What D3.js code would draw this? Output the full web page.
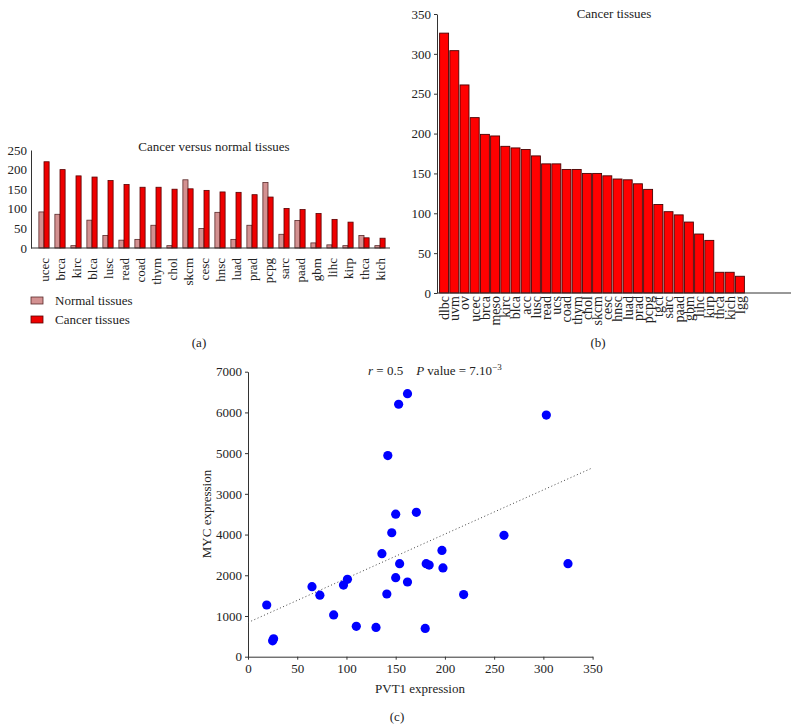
<!DOCTYPE html>
<html><head><meta charset="utf-8">
<script src="https://cdn.jsdelivr.net/npm/d3@7"></script>
<style>body{margin:0;background:#fff}svg{font-family:"Liberation Serif","Times New Roman",serif}</style>
</head><body>
<svg id="c" width="799" height="728"></svg>
<script>
// Panel (a) data
const catsA = ["ucec","brca","kirc","blca","lusc","read","coad","thym","chol","skcm","cesc","hnsc","luad","prad","pcpg","sarc","paad","gbm","lihc","kirp","thca","kich"];
const normalA = [92,86,6,71,32,20,22,58,6,174,50,91,22,58,167,35,70,13,8,6,32,6];
const cancerA = [220,200,184,181,172,162,155,155,150,151,147,143,142,136,130,101,98,88,73,66,26,25];
const ticksA = [0,50,100,150,200,250];
// Panel (b) data
const catsB = ["dlbc","uvm","ov","ucec","brca","meso","kirc","blca","acc","lusc","read","ucs","coad","thym","chol","skcm","cesc","hnsc","luad","prad","pcpg","tgct","sarc","paad","gbm","lihc","kirp","thca","kich","lgg"];
const valsB = [326,304,261,220,199,197,184,182,180,172,162,162,155,155,150,150,147,143,142,137,130,111,102,98,89,74,66,26,26,21];
const ticksB = [0,50,100,150,200,250,300,350];
// Panel (c) data
const pvt1 = [19,25,26,65,73,87,97,101,110,130,136,141,142,146,150,150,153,154,162,162,171,180,181,184,197,198,219,260,303,325];
const myc  = [1270,390,440,1720,1510,1025,1760,1900,745,720,2530,1540,4940,3045,3500,1940,6200,2285,6460,1835,3545,695,2285,2250,2610,2180,1525,2980,5935,2285];
const trendX = [0,350];
const trendY = [840,4640];
const ticksCX = [0,50,100,150,200,250,300,350];
const ticksCY = [0,1000,2000,3000,4000,5000,6000,7000];
const ticksCYLabels = ["0","1000","2000","4000","3000","5000","6000","7000"];

const svg = d3.select("#c");
const FS = 13;

// ---------- Panel (a) ----------
{
  const yA = d3.scaleLinear().domain([0,250]).range([248,150]);
  const xA = d3.scaleBand().domain(catsA).range([36,388]).paddingInner(0.36).paddingOuter(0.18);
  const sub = d3.scaleBand().domain(["n","c"]).range([0,xA.bandwidth()]);
  const g = svg.append("g");
  const data = catsA.map((c,i)=>({c,n:normalA[i],k:cancerA[i]}));
  g.selectAll("rect.n").data(data).join("rect")
    .attr("x",d=>xA(d.c)+sub("n")).attr("width",sub.bandwidth())
    .attr("y",d=>yA(d.n)).attr("height",d=>yA(0)-yA(d.n))
    .attr("fill","#d39191").attr("stroke","#5a2a2a").attr("stroke-width",0.8);
  g.selectAll("rect.k").data(data).join("rect")
    .attr("x",d=>xA(d.c)+sub("c")).attr("width",sub.bandwidth())
    .attr("y",d=>yA(d.k)).attr("height",d=>yA(0)-yA(d.k))
    .attr("fill","#ee0000").attr("stroke","#5a0000").attr("stroke-width",0.8);
  const ya = g.append("g").attr("transform","translate(31,0)")
    .call(d3.axisLeft(yA).tickValues(ticksA).tickSize(0).tickPadding(4));
  ya.select(".domain").attr("stroke","#333");
  ya.selectAll("text").attr("font-size",FS).attr("font-family","Liberation Serif").attr("fill","#222");
  const xa = g.append("g").attr("transform","translate(0,248)")
    .call(d3.axisBottom(xA).tickSize(0).tickSizeOuter(0));
  xa.select(".domain").attr("d","M31,0H390").attr("stroke","#333");
  xa.selectAll("text").attr("font-size",FS).attr("font-family","Liberation Serif").attr("fill","#222")
    .attr("transform","rotate(-90)").attr("text-anchor","end").attr("x",-10).attr("y",0).attr("dy","0.35em");
  g.append("text").attr("x",214).attr("y",151).attr("text-anchor","middle").attr("font-size",FS).attr("fill","#222").text("Cancer versus normal tissues");
  const leg = [{t:"Normal tissues",f:"#d39191",s:"#5a2a2a"},{t:"Cancer tissues",f:"#ee0000",s:"#5a0000"}];
  leg.forEach((l,i)=>{
    g.append("rect").attr("x",31).attr("y",297+i*19).attr("width",12).attr("height",7).attr("fill",l.f).attr("stroke",l.s).attr("stroke-width",0.8);
    g.append("text").attr("x",55).attr("y",305+i*19).attr("font-size",FS).attr("fill","#222").text(l.t);
  });
  g.append("text").attr("x",199).attr("y",347).attr("text-anchor","middle").attr("font-size",FS).attr("fill","#222").text("(a)");
}

// ---------- Panel (b) ----------
{
  const yB = d3.scaleLinear().domain([0,350]).range([293,14]);
  const xB = d3.scaleBand().domain(catsB).range([439,745]).paddingInner(0.12).paddingOuter(0.06);
  const g = svg.append("g");
  g.selectAll("rect").data(catsB.map((c,i)=>({c,v:valsB[i]}))).join("rect")
    .attr("x",d=>xB(d.c)).attr("width",xB.bandwidth())
    .attr("y",d=>yB(d.v)).attr("height",d=>yB(0)-yB(d.v))
    .attr("fill","#ff0000").attr("stroke","#4a0000").attr("stroke-width",0.9);
  const ya = g.append("g").attr("transform","translate(437,0)")
    .call(d3.axisLeft(yB).tickValues(ticksB).tickSize(3).tickSizeOuter(0).tickPadding(3));
  ya.select(".domain").attr("stroke","#333");
  ya.selectAll("line").attr("stroke","#333");
  ya.selectAll("text").attr("font-size",FS).attr("font-family","Liberation Serif").attr("fill","#222");
  const xa = g.append("g").attr("transform","translate(0,293)")
    .call(d3.axisBottom(xB).tickSize(0).tickSizeOuter(0));
  xa.select(".domain").attr("d","M437,0H791").attr("stroke","#333");
  xa.selectAll("text").attr("font-size",14).attr("font-family","Liberation Serif").attr("fill","#222")
    .attr("transform","rotate(-90)").attr("text-anchor","end").attr("x",-3).attr("y",0).attr("dy","0.35em");
  g.append("text").attr("x",614).attr("y",18).attr("text-anchor","middle").attr("font-size",FS).attr("fill","#222").text("Cancer tissues");
  g.append("text").attr("x",598).attr("y",347).attr("text-anchor","middle").attr("font-size",FS).attr("fill","#222").text("(b)");
}

// ---------- Panel (c) ----------
{
  const xC = d3.scaleLinear().domain([0,350]).range([248,592.6]);
  const yC = d3.scaleLinear().domain([0,7000]).range([656.7,371.7]);
  const g = svg.append("g");
  const ya = g.append("g").attr("transform","translate(248,0)")
    .call(d3.axisLeft(yC).tickValues(ticksCY).tickFormat((d,i)=>ticksCYLabels[i]).tickSize(3).tickSizeOuter(0).tickPadding(3));
  ya.select(".domain").attr("stroke","#333");
  ya.selectAll("line").attr("stroke","#333");
  ya.selectAll("text").attr("font-size",FS).attr("font-family","Liberation Serif").attr("fill","#222");
  const xa = g.append("g").attr("transform","translate(0,656.7)")
    .call(d3.axisBottom(xC).tickValues(ticksCX).tickSize(3).tickSizeOuter(0).tickPadding(4));
  xa.select(".domain").attr("stroke","#333");
  xa.selectAll("line").attr("stroke","#333");
  xa.selectAll("text").attr("font-size",FS).attr("font-family","Liberation Serif").attr("fill","#222");
  g.append("line").attr("x1",xC(trendX[0])).attr("y1",yC(trendY[0])).attr("x2",xC(trendX[1])).attr("y2",yC(trendY[1]))
    .attr("stroke","#444").attr("stroke-width",1).attr("stroke-dasharray","1,2.5");
  g.selectAll("circle").data(pvt1.map((x,i)=>({x,y:myc[i]}))).join("circle")
    .attr("cx",d=>xC(d.x)).attr("cy",d=>yC(d.y)).attr("r",4.6).attr("fill","#0000ff");
  g.append("text").attr("x",420).attr("y",693).attr("text-anchor","middle").attr("font-size",FS).attr("fill","#222").text("PVT1 expression");
  g.append("text").attr("transform","translate(211,514) rotate(-90)").attr("text-anchor","middle").attr("font-size",FS).attr("fill","#222").text("MYC expression");
  const ann = g.append("text").attr("x",368).attr("y",375).attr("font-size",FS).attr("fill","#222");
  ann.append("tspan").attr("font-style","italic").text("r");
  ann.append("tspan").text(" = 0.5    ").attr("xml:space","preserve");
  ann.append("tspan").attr("font-style","italic").text("P");
  ann.append("tspan").text(" value = 7.10");
  ann.append("tspan").attr("font-size",9).attr("dy",-5).text("−3");
  g.append("text").attr("x",397).attr("y",721).attr("text-anchor","middle").attr("font-size",FS).attr("fill","#222").text("(c)");
}
</script>
</body></html>
